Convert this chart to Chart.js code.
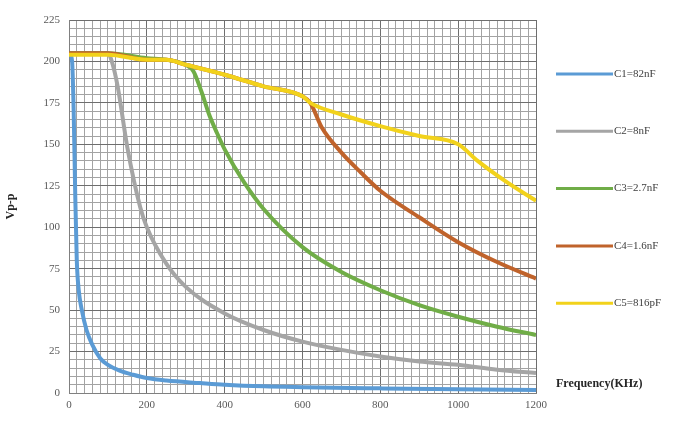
<!DOCTYPE html>
<html>
<head>
<meta charset="utf-8">
<script src="https://cdn.jsdelivr.net/npm/chart.js@4/dist/chart.umd.min.js"></script>
<style>
    html, body { margin: 0; padding: 0; background: #fff; }
    #wrap { width: 689px; height: 423px; }
</style>
</head>
<body>
<div id="wrap"><canvas id="vppChart" width="689" height="423"></canvas></div>
<script>
// values (frequency in kHz, amplitude in Vp-p)
var seriesNames = ['C1=82nF', 'C2=8nF', 'C3=2.7nF', 'C4=1.6nF', 'C5=816pF'];
var seriesColors = ['#5B9BD5', '#A5A5A5', '#70AD47', '#C0632B', '#F2D21B'];

var freqC1 = [2, 8, 12, 16, 20, 25, 33, 45, 60, 80, 100, 130, 165, 200, 250, 337, 400, 500, 600, 800, 1000, 1200];
var voltC1 = [205, 200, 170, 120, 80, 62, 50, 38, 29, 21, 17, 13.5, 11, 9, 7.5, 6, 5, 4, 3.5, 2.8, 2.2, 1.8];

var freqC2 = [0, 50, 100, 110, 125, 150, 183, 200, 250, 300, 400, 500, 600, 700, 800, 900, 1000, 1100, 1200];
var voltC2 = [205, 205, 205, 200, 185, 148, 112, 100, 78, 64, 48, 38, 31, 26, 22, 19, 17, 14, 12];

var freqC3 = [0, 100, 200, 250, 300, 320, 340, 360, 380, 400, 450, 500, 600, 700, 800, 900, 1000, 1100, 1200];
var voltC3 = [205, 205, 202, 201, 198, 194, 182, 168, 157, 147, 127, 111, 88, 73, 62, 53, 46, 40, 35];

var freqC4 = [0, 100, 200, 250, 300, 400, 500, 600, 620, 650, 700, 750, 800, 900, 1000, 1100, 1200];
var voltC4 = [205, 205, 201, 201, 198, 192, 185, 179, 175, 160, 145, 133, 122, 106, 91, 79, 69];

var freqC5 = [0, 100, 200, 250, 300, 400, 500, 600, 620, 700, 800, 900, 1000, 1050, 1126, 1200];
var voltC5 = [204, 204, 201, 201, 198, 192, 185, 179, 175, 168, 161, 155, 150, 140, 127, 116];

var xTicks = [0, 200, 400, 600, 800, 1000, 1200];
var yTicks = [0, 25, 50, 75, 100, 125, 150, 175, 200, 225];

var allFreq = [freqC1, freqC2, freqC3, freqC4, freqC5];
var allVolt = [voltC1, voltC2, voltC3, voltC4, voltC5];

function toPoints(xs, ys) {
    var pts = [];
    for (var i = 0; i < xs.length; i++) pts.push({ x: xs[i], y: ys[i] });
    return pts;
}

var datasets = [];
for (var s = 0; s < seriesNames.length; s++) {
    datasets.push({
        label: seriesNames[s],
        data: toPoints(allFreq[s], allVolt[s]),
        borderColor: seriesColors[s],
        backgroundColor: seriesColors[s],
        borderWidth: 4,
        pointRadius: 0,
        cubicInterpolationMode: 'monotone',
        order: seriesNames.length - s //later series on top, like the original
    });
}

var serif = '"Liberation Serif", "DejaVu Serif", serif';

// legend + x title drawn at the right side of the plot
var sideTexts = {
    id: 'sideTexts',
    afterDraw: function (chart) {
        var ctx = chart.ctx;
        ctx.save();
        var top = 74, gap = 57.3;
        for (var i = 0; i < datasets.length; i++) {
            var y = top + i * gap;
            ctx.strokeStyle = seriesColors[i];
            ctx.lineWidth = 3;
            ctx.beginPath();
            ctx.moveTo(556, y);
            ctx.lineTo(613, y);
            ctx.stroke();
            ctx.fillStyle = '#404040';
            ctx.font = '11px ' + serif;
            ctx.textBaseline = 'middle';
            ctx.textAlign = 'left';
            ctx.fillText(seriesNames[i], 614, y);
        }
        ctx.font = 'bold 12px ' + serif;
        ctx.fillStyle = '#262626';
        ctx.fillText('Frequency(KHz)', 556, 384);
        ctx.restore();
    }
};

var ctx = document.getElementById('vppChart');
var myChart = new Chart(ctx, {
    type: 'line',
    data: { datasets: datasets },
    options: {
        responsive: false,
        animation: false,
        layout: { padding: { top: 20, right: 153, left: 4, bottom: 4 } },
        plugins: {
            legend: { display: false },
            tooltip: { enabled: false }
        },
        scales: {
            x: {
                type: 'linear',
                min: xTicks[0],
                max: xTicks[xTicks.length - 1],
                afterBuildTicks: function (scale) {
                    var t = [];
                    for (var v = xTicks[0]; v <= xTicks[xTicks.length - 1]; v += 20) t.push({ value: v });
                    scale.ticks = t;
                },
                afterFit: function (scale) { scale.height = 26; },
                ticks: {
                    autoSkip: false,
                    maxRotation: 0,
                    padding: 6,
                    color: '#595959',
                    font: { family: serif, size: 11 },
                    callback: function (v) { return xTicks.indexOf(v) >= 0 ? String(v) : ''; }
                },
                grid: {
                    drawTicks: false,
                    lineWidth: 1,
                    color: function (c) {
                        return (c.tick && xTicks.indexOf(c.tick.value) >= 0) ? '#6e6e6e' : '#a3a3a3';
                    }
                },
                border: { display: true, color: '#808080' }
            },
            y: {
                min: yTicks[0],
                max: yTicks[yTicks.length - 1],
                afterBuildTicks: function (scale) {
                    var t = [];
                    for (var v = yTicks[0]; v <= yTicks[yTicks.length - 1]; v += 5) t.push({ value: v });
                    scale.ticks = t;
                },
                afterFit: function (scale) { scale.width = 65; },
                ticks: {
                    autoSkip: false,
                    padding: 9,
                    color: '#595959',
                    font: { family: serif, size: 11 },
                    callback: function (v) { return yTicks.indexOf(v) >= 0 ? String(v) : ''; }
                },
                grid: {
                    drawTicks: false,
                    lineWidth: 1,
                    color: function (c) {
                        return (c.tick && yTicks.indexOf(c.tick.value) >= 0) ? '#6e6e6e' : '#a3a3a3';
                    }
                },
                border: { display: true, color: '#808080' },
                title: {
                    display: true,
                    text: 'Vp-p',
                    color: '#262626',
                    font: { family: serif, size: 12, weight: 'bold' },
                    padding: { top: 0, bottom: 0 }
                }
            }
        }
    },
    plugins: [sideTexts]
});
</script>
</body>
</html>
